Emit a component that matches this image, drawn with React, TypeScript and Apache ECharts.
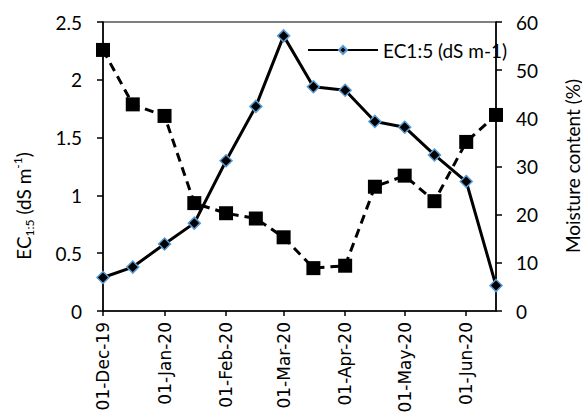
import React, { useEffect, useRef } from "react";
import * as echarts from "echarts";

const sampleDates = [
  "2019-12-01", "2019-12-16", "2020-01-01", "2020-01-16", "2020-02-01",
  "2020-02-16", "2020-03-01", "2020-03-16", "2020-04-01", "2020-04-16",
  "2020-05-01", "2020-05-16", "2020-06-01", "2020-06-16",
];
const ecValues = [0.29, 0.38, 0.58, 0.76, 1.3, 1.77, 2.38, 1.94, 1.91, 1.64, 1.59, 1.35, 1.12, 0.22];
const moistureValues = [54.2, 42.9, 40.5, 22.4, 20.3, 19.2, 15.3, 8.9, 9.4, 25.8, 28.1, 22.8, 35.1, 40.7];
const tickDates = [
  "2019-12-01", "2020-01-01", "2020-02-01", "2020-03-01",
  "2020-04-01", "2020-05-01", "2020-06-01",
];
const axisStart = "2019-12-01";
const axisEnd = "2020-06-16";
const ecName = "EC1:5 (dS m-1)";
const moistureName = "Moisture content (%)";
const monthNames = ["Jan", "Feb", "Mar", "Apr", "May", "Jun", "Jul", "Aug", "Sep", "Oct", "Nov", "Dec"];

function ts(s: string): number {
  const [y, m, d] = s.split("-").map(Number);
  return new Date(y, m - 1, d).getTime();
}
function fmt(v: number): string {
  const d = new Date(v);
  const dd = String(d.getDate()).padStart(2, "0");
  return `${dd}-${monthNames[d.getMonth()]}-${String(d.getFullYear()).slice(2)}`;
}

const NUM_FONT = "Lato";

export default function App() {
  const ref = useRef<HTMLDivElement>(null);
  useEffect(() => {
    if (!ref.current) return;
    const chart = echarts.init(ref.current, undefined, { renderer: "svg" });
    chart.setOption({
      animation: false,
      backgroundColor: "#fff",
      grid: {
        left: 103, right: 86, top: 22, bottom: 105,
        show: true, borderColor: "#000", borderWidth: 1.2,
      },
      legend: {
        data: [ecName],
        left: 307,
        top: 40,
        padding: 0,
        itemWidth: 70,
        itemHeight: 10,
        textStyle: { fontFamily: NUM_FONT, fontSize: 19, color: "#000", lineHeight: 20 },
      },
      xAxis: {
        type: "value",
        min: ts(axisStart),
        max: ts(axisEnd),
        axisLine: { show: true, lineStyle: { color: "#000", width: 1.5 } },
        axisTick: {
          show: true, length: 5, lineStyle: { color: "#000", width: 1.5 },
          customValues: tickDates.map(ts),
        },
        axisLabel: {
          rotate: 90,
          margin: 11,
          fontFamily: "DejaVu Sans",
          fontSize: 17,
          color: "#000",
          customValues: tickDates.map(ts),
          formatter: (v: number) => fmt(v),
        },
        splitLine: { show: false },
      },
      yAxis: [
        {
          type: "value",
          min: 0, max: 2.5, interval: 0.5,
          axisLine: { show: true, lineStyle: { color: "#000", width: 1.5 } },
          axisTick: { show: true, length: 6, lineStyle: { color: "#000", width: 1.5 } },
          axisLabel: { fontFamily: NUM_FONT, fontSize: 19, color: "#000", margin: 21 },
          splitLine: { show: false },
        },
        {
          type: "value",
          min: 0, max: 60, interval: 10,
          position: "right",
          axisLine: { show: true, lineStyle: { color: "#000", width: 1.5 } },
          axisTick: { show: true, length: 6, lineStyle: { color: "#000", width: 1.5 } },
          axisLabel: { fontFamily: NUM_FONT, fontSize: 19, color: "#000", margin: 20 },
          splitLine: { show: false },
        },
      ],
      series: [
        {
          name: moistureName,
          type: "line",
          yAxisIndex: 1,
          data: sampleDates.map((d, i) => [ts(d), moistureValues[i]]),
          symbol: "rect",
          symbolSize: 14,
          lineStyle: { color: "#000", width: 3, type: [9, 6] },
          itemStyle: { color: "#000" },
          z: 2,
        },
        {
          name: ecName,
          type: "line",
          yAxisIndex: 0,
          data: sampleDates.map((d, i) => [ts(d), ecValues[i]]),
          symbol: "diamond",
          symbolSize: 12,
          lineStyle: { color: "#000", width: 3 },
          itemStyle: { color: "#000", borderColor: "#5B9BD5", borderWidth: 1.5 },
          z: 3,
        },
      ],
      graphic: [
        {
          type: "text",
          x: 23,
          y: 206,
          rotation: Math.PI / 2,
          style: {
            text: "{a|EC}{b|1:5}{a| (dS m}{c|-1}{a|)}",
            align: "center",
            verticalAlign: "middle",
            fill: "#000",
            rich: {
              a: { fontFamily: NUM_FONT, fontSize: 19, lineHeight: 24, fill: "#000" },
              b: { fontFamily: NUM_FONT, fontSize: 12, lineHeight: 24, verticalAlign: "bottom", padding: [10, 0, 0, 0], fill: "#000" },
              c: { fontFamily: NUM_FONT, fontSize: 12, lineHeight: 24, verticalAlign: "top", padding: [0, 0, 8, 0], fill: "#000" },
            },
          },
        },
        {
          type: "text",
          x: 572,
          y: 166,
          rotation: Math.PI / 2,
          style: {
            text: moistureName,
            align: "center",
            verticalAlign: "middle",
            fontFamily: NUM_FONT,
            fontSize: 19,
            fill: "#000",
          },
        },
      ],
    });
    return () => chart.dispose();
  }, []);
  return (
    <div
      ref={ref}
      style={{ position: "absolute", left: 0, top: 0, width: 582, height: 416 }}
    />
  );
}
